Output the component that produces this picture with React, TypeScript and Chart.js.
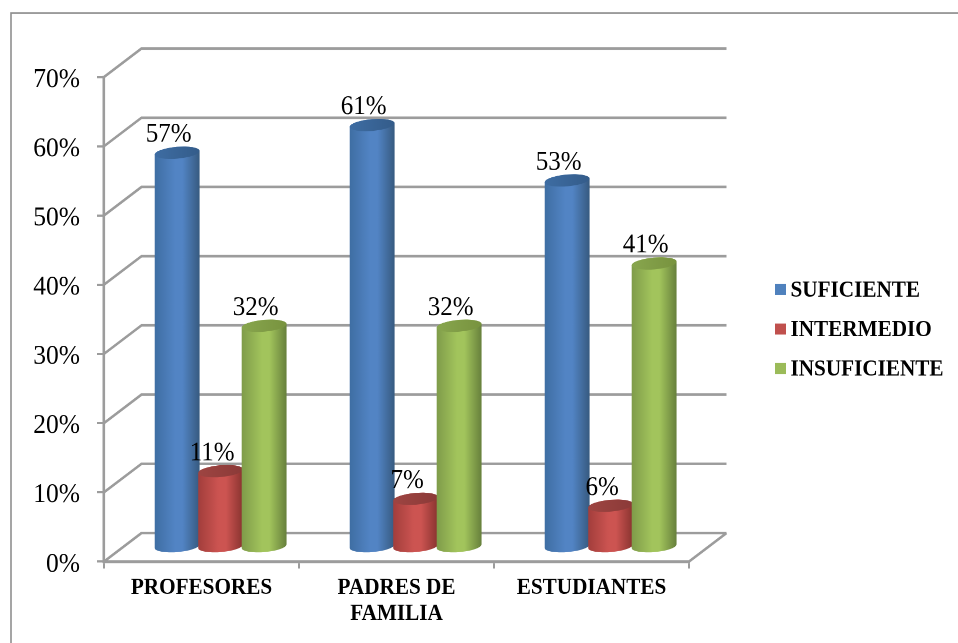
import React, { useEffect, useRef } from "react";
import { Chart, registerables } from "chart.js";

Chart.register(...registerables);

const categories: (string | string[])[] = ["PROFESORES", ["PADRES DE", "FAMILIA"], "ESTUDIANTES"];
const seriesNames = ["SUFICIENTE", "INTERMEDIO", "INSUFICIENTE"];
const suficiente = [57, 61, 53];
const intermedio = [11, 7, 6];
const insuficiente = [32, 32, 41];

const legendColors = ["#4f81bd", "#c0504d", "#9bbb59"];
const sideStops = [
  ["#3f6ea3", "#5284c4", "#375a80"],
  ["#a23e3c", "#cc5451", "#88332f"],
  ["#7f9c4a", "#a2c45c", "#67803c"],
];
const capColors = [
  ["#3e6da3", "#345c8a"],
  ["#9e4542", "#8b3a38"],
  ["#88a64e", "#78933f"],
];

const GRID = "#9c9c9c";
const SERIF = "'Liberation Serif', 'Times New Roman', serif";
const LOGICAL_H = 595;
const SY = 643 / LOGICAL_H; // the reference's text is slightly taller than wide
const DEPTH_X = 37.5;
const DEPTH_Y = 28.5 / SY;
const ROT = -0.08;
const RY = 5.9 / SY;

const wall3d = {
  id: "wall3d",
  beforeDraw(chart: any) {
    const { ctx } = chart;
    ctx.save();
    ctx.strokeStyle = "#8f8f8f";
    ctx.lineWidth = 1.6;
    ctx.beginPath();
    ctx.moveTo(11, LOGICAL_H);
    ctx.lineTo(11, 13 / SY);
    ctx.lineTo(958, 13 / SY);
    ctx.stroke();
    ctx.restore();
  },
  beforeDatasetsDraw(chart: any) {
    const { ctx, chartArea: a, scales } = chart;
    const y = scales.y;
    ctx.save();
    ctx.strokeStyle = GRID;
    ctx.lineWidth = 2.4;
    ctx.lineJoin = "miter";
    for (const t of y.ticks) {
      const p = y.getPixelForValue(t.value);
      ctx.beginPath();
      ctx.moveTo(a.left, p);
      ctx.lineTo(a.left + DEPTH_X, p - DEPTH_Y);
      ctx.lineTo(a.right + DEPTH_X, p - DEPTH_Y);
      ctx.stroke();
    }
    ctx.beginPath();
    ctx.moveTo(a.right, a.bottom);
    ctx.lineTo(a.right + DEPTH_X, a.bottom - DEPTH_Y);
    ctx.stroke();
    ctx.restore();

    // cylinders, drawn from the bar elements the library laid out
    const dx = DEPTH_X / 2 + 0.4;
    const dy = -DEPTH_Y / 2;
    for (let i = 0; i < chart.data.datasets.length; i++) {
      const meta = chart.getDatasetMeta(i);
      for (const el of meta.data) {
        const cx = el.x + dx;
        const top = el.y + dy;
        const base = el.base + dy;
        const rx = el.width / 2;
        const g = ctx.createLinearGradient(cx - rx, 0, cx + rx, 0);
        g.addColorStop(0, sideStops[i][0]);
        g.addColorStop(0.45, sideStops[i][1]);
        g.addColorStop(0.62, sideStops[i][1]);
        g.addColorStop(1, sideStops[i][2]);
        ctx.save();
        ctx.fillStyle = g;
        ctx.beginPath();
        ctx.ellipse(cx, base, rx, RY, ROT, 0, Math.PI);
        ctx.ellipse(cx, top, rx, RY, ROT, Math.PI, Math.PI * 2);
        ctx.closePath();
        ctx.fill();
        const c = ctx.createLinearGradient(cx - rx, 0, cx + rx, 0);
        c.addColorStop(0, capColors[i][0]);
        c.addColorStop(1, capColors[i][1]);
        ctx.fillStyle = c;
        ctx.beginPath();
        ctx.ellipse(cx, top, rx, RY, ROT, 0, Math.PI * 2);
        ctx.fill();
        ctx.restore();
      }
    }
    return false;
  },
  afterDraw(chart: any) {
    const { ctx } = chart;
    const dx = DEPTH_X / 2 + 0.4;
    const dy = -DEPTH_Y / 2;
    ctx.save();
    ctx.fillStyle = "#000";
    ctx.textAlign = "center";
    ctx.textBaseline = "middle";
    ctx.font = `25px ${SERIF}`;
    chart.data.datasets.forEach((ds: any, i: number) => {
      chart.getDatasetMeta(i).data.forEach((el: any, j: number) => {
        ctx.fillText(`${ds.data[j]}%`, el.x + dx - 8.5, el.y + dy - 18 / SY);
      });
    });
    ctx.textAlign = "left";
    ctx.font = `bold 21.2px ${SERIF}`;
    const legendY = [289.5, 329, 368.5];
    seriesNames.forEach((name, i) => {
      ctx.fillStyle = legendColors[i];
      ctx.fillRect(775, (legendY[i] - 5.5) / SY, 11, 11 / SY);
      ctx.fillStyle = "#000";
      ctx.fillText(name, 790.5, (legendY[i] + 1.2) / SY);
    });
    ctx.restore();
  },
};

export default function App() {
  const ref = useRef<HTMLCanvasElement>(null);
  useEffect(() => {
    const chart = new Chart(ref.current as HTMLCanvasElement, {
      type: "bar",
      data: {
        labels: categories as any,
        datasets: [
          { label: seriesNames[0], data: suficiente, backgroundColor: legendColors[0] },
          { label: seriesNames[1], data: intermedio, backgroundColor: legendColors[1] },
          { label: seriesNames[2], data: insuficiente, backgroundColor: legendColors[2] },
        ],
      },
      options: {
        responsive: false,
        animation: false,
        devicePixelRatio: 2,
        layout: { padding: { left: 0, top: 77 / SY, right: 269, bottom: 0 } },
        datasets: { bar: { categoryPercentage: 0.669, barPercentage: 1.035 } },
        plugins: { legend: { display: false }, tooltip: { enabled: false } },
        scales: {
          x: {
            afterFit(s: any) {
              s.height = 81.5 / SY;
            },
            grid: { drawOnChartArea: false, color: GRID, lineWidth: 2, tickLength: 7 / SY },
            border: { color: GRID, width: 2.6 },
            ticks: {
              color: "#000",
              padding: 6,
              maxRotation: 0,
              autoSkip: false,
              font: { family: SERIF, size: 21.2, weight: "bold", lineHeight: 26 / (21.2 * SY) },
            },
          },
          y: {
            min: 0,
            max: 70,
            afterFit(s: any) {
              s.width = 104;
            },
            grid: { drawOnChartArea: false, color: GRID, lineWidth: 2, tickLength: 7 },
            border: { color: GRID, width: 2.6 },
            ticks: {
              stepSize: 10,
              color: "#000",
              padding: 17,
              labelOffset: 2.5,
              font: { family: SERIF, size: 25.5 },
              callback: (v: any) => `${v}%`,
            },
          },
        },
      } as any,
      plugins: [wall3d],
    });
    return () => chart.destroy();
  }, []);
  return (
    <div style={{ position: "fixed", left: 0, top: 0, width: 958, height: 643, background: "#fff", overflow: "hidden" }}>
      <canvas
        ref={ref}
        width={958}
        height={LOGICAL_H}
        style={{ display: "block", transform: `scaleY(${SY})`, transformOrigin: "0 0" }}
      />
    </div>
  );
}
